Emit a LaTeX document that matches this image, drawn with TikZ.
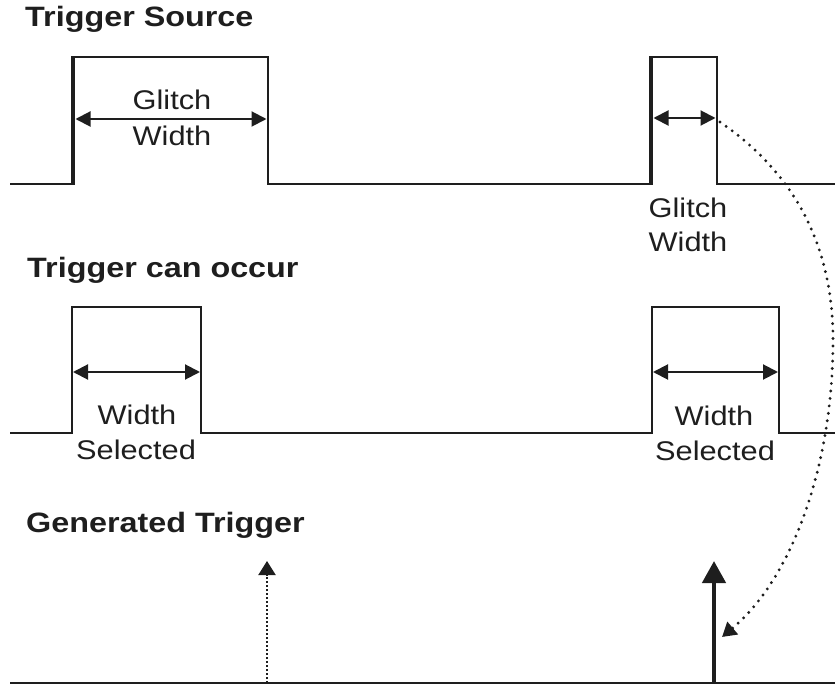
\documentclass[tikz,border=0pt]{standalone}
\usepackage{fontspec}
\setmainfont{Liberation Sans}
\newfontfamily\annfont[FakeStretch=1.14]{Liberation Sans}
\newfontfamily\headfont[FakeStretch=1.155]{Liberation Sans}
\usetikzlibrary{arrows.meta}
\definecolor{ink}{HTML}{1E1E1E}
\begin{document}
\begin{tikzpicture}[x=1pt,y=-1pt,
  sig/.style={draw=ink,line width=2pt,line join=miter},
  edgeline/.style={draw=ink,line width=4.5pt},
  dim/.style={draw=ink,line width=2pt,{Triangle[length=15pt,width=15pt]}-{Triangle[length=15pt,width=15pt]}},
  head/.style={font=\headfont\bfseries\fontsize{28}{32}\selectfont,text=ink,inner sep=0pt,anchor=base west},
  ann/.style={font=\annfont\fontsize{27}{32}\selectfont,text=ink,inner sep=0pt,anchor=base},
]
\useasboundingbox (0,0) rectangle (835,684);

% headings
\node[head] (h1) at (25,27) {Trigger Source};
\node[head] (h2) at (27,278) {Trigger can occur};
\node[head] (h3) at (26,532) {Generated Trigger};

% trigger source signal
\draw[sig] (10,184) -- (72,184) -- (72,57) -- (268,57) -- (268,184) -- (650,184) -- (650,57) -- (717,57) -- (717,184) -- (835,184);
\draw[edgeline] (73,185) -- (73,56);
\draw[edgeline] (651,185) -- (651,56);

\coordinate (ga1) at (75.5,119);
\coordinate (gb1) at (266.5,119);
\draw[dim] (ga1) -- (gb1);
\coordinate (ga2) at (653.5,118);
\coordinate (gb2) at (715.5,118);
\draw[dim] (ga2) -- (gb2);

\node[ann] (gl1) at (172,110) {Glitch};
\node[ann] (gw1) at (172,146) {Width};
\node[ann] (gl2) at (688,218) {Glitch};
\node[ann] (gw2) at (688,252) {Width};

% trigger can occur signal
\draw[sig] (10,433) -- (72,433) -- (72,307) -- (201,307) -- (201,433) -- (652,433) -- (652,307) -- (779,307) -- (779,433) -- (835,433);
\coordinate (wa1) at (73,372);
\coordinate (wb1) at (200,372);
\draw[dim] (wa1) -- (wb1);
\coordinate (wa2) at (653,372);
\coordinate (wb2) at (778,372);
\draw[dim] (wa2) -- (wb2);

\node[ann] (ws1) at (137,424) {Width};
\node[ann] (ss1) at (136,459) {Selected};
\node[ann] (ws2) at (714,425) {Width};
\node[ann] (ss2) at (715,460) {Selected};

% generated trigger
\draw[sig] (10,683) -- (835,683);
\coordinate (d0) at (267,683);
\coordinate (d1) at (267,561);
\draw[draw=ink,line width=2pt,dash pattern=on 2pt off 2pt,-{Triangle[length=14pt,width=17pt]}] (d0) -- (d1);
\coordinate (t0) at (714,683);
\coordinate (t1) at (714,561);
\draw[draw=ink,line width=4.5pt,-{Triangle[length=22pt,width=23pt]}] (t0) -- (t1);

% dotted curve
\coordinate (c0) at (720,122);
\coordinate (cm) at (833,340);
\coordinate (c1) at (722,637);
\draw[draw=ink,line width=3.2pt,line cap=round,dash pattern=on 0pt off 7.5pt,-{Triangle[length=14pt,width=16pt]}]
  (c0) .. controls (790,170) and (833,240) .. (cm) .. controls (833,470) and (790,580) .. (c1);
\end{tikzpicture}
\end{document}
